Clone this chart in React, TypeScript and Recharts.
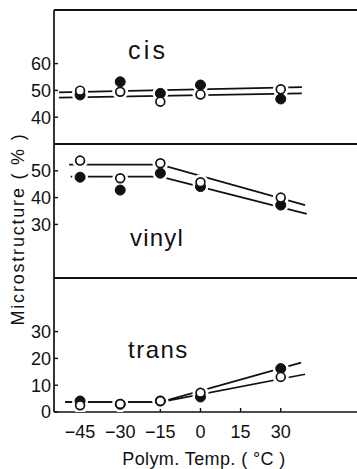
import React from "react";
import { LineChart, Line, XAxis, YAxis, ReferenceLine } from "recharts";

// ---- data ----
const temps = [-45, -30, -15, 0, 30];
const xTicks = [-45, -30, -15, 0, 15, 30];

const cisOpen = [49.9, 49.5, 45.8, 48.5, 50.4];
const cisFilled = [48.3, 53.2, 48.9, 52.0, 46.8];
const vinylOpen = [53.8, 47.2, 52.8, 45.7, 40.0];
const vinylFilled = [47.6, 42.8, 49.1, 44.1, 37.2];
const transOpen = [2.5, 3.0, 4.1, 7.2, 13.1];
const transFilled = [4.1, 2.9, 4.1, 5.6, 16.2];

// fitted lines (x, value)
const cisFitUpperX = [-52.9, 37.9];
const cisFitUpper = [49.3, 51.2];
const cisFitLowerX = [-52.9, 37.9];
const cisFitLower = [47.3, 48.9];
const vinylFitUpperX = [-49.1, -15, 39.1];
const vinylFitUpper = [52.3, 52.3, 37.2];
const vinylFitLowerX = [-48.5, -15, 39.7];
const vinylFitLower = [47.8, 47.8, 33.9];
const transFitUpperX = [-50.6, -15, 37.6];
const transFitUpper = [3.7, 3.7, 18.4];
const transFitLowerX = [-50.6, -15, 39.1];
const transFitLower = [3.7, 3.7, 14.1];

const cisTicks = [40, 50, 60];
const vinylTicks = [30, 40, 50];
const transTicks = [0, 10, 20, 30];

const rows = (xs: number[], ys: number[]) => xs.map((x, i) => ({ x, y: ys[i] }));

const FONT = "'Liberation Sans', Arial, sans-serif";
const X_DOMAIN: [number, number] = [-54.75, 58.5];

const haloDot = (props: any) => {
  const { cx, cy, index } = props;
  if (cx == null || cy == null) return <g key={`h${index}`} />;
  return <circle key={`h${index}`} cx={cx} cy={cy} r={8} fill="#fff" stroke="none" />;
};
const filledDot = (props: any) => {
  const { cx, cy, index } = props;
  if (cx == null || cy == null) return <g key={`f${index}`} />;
  return <circle key={`f${index}`} cx={cx} cy={cy} r={5} fill="#111" stroke="#111" strokeWidth={1} />;
};
const openDot = (props: any) => {
  const { cx, cy, index } = props;
  if (cx == null || cy == null) return <g key={`o${index}`} />;
  return <circle key={`o${index}`} cx={cx} cy={cy} r={4.4} fill="#fff" stroke="#111" strokeWidth={1.7} />;
};

const fmt = (v: number) => (v < 0 ? `\u2212${Math.abs(v)}` : `${v}`);

type PanelProps = {
  top: number;
  domain: [number, number];
  ticks: number[];
  open: number[];
  filled: number[];
  fitU: { x: number; y: number }[];
  fitL: { x: number; y: number }[];
  showX: boolean;
};

const Panel = ({ top, domain, ticks, open, filled, fitU, fitL, showX }: PanelProps) => {
  const height = 4 + 134 + (showX ? 57 : 0);
  const openRows = rows(temps, open);
  const filledRows = rows(temps, filled);
  return (
    <div style={{ position: "absolute", left: 0, top, width: 357, height }}>
      <LineChart width={357} height={height} margin={{ top: 4, right: 0, bottom: 0, left: 0 }}>
        <XAxis
          type="number"
          dataKey="x"
          domain={X_DOMAIN}
          ticks={xTicks}
          allowDataOverflow
          hide={!showX}
          height={57}
          axisLine={{ stroke: "#111", strokeWidth: 1.7 }}
          tickLine={{ stroke: "#111", strokeWidth: 1.4 }}
          tickSize={-4}
          tickMargin={17}
          tickFormatter={fmt}
          tick={{ fill: "#111", fontSize: 18, fontFamily: FONT }}
        />
        <YAxis
          type="number"
          dataKey="y"
          domain={domain}
          ticks={ticks}
          allowDataOverflow
          width={54}
          axisLine={{ stroke: "#111", strokeWidth: 1.7 }}
          tickLine={{ stroke: "#111", strokeWidth: 1.4 }}
          tickSize={-4}
          tickMargin={7}
          tick={{ fill: "#111", fontSize: 18, fontFamily: FONT }}
        />
        <ReferenceLine y={domain[1]} stroke="#111" strokeWidth={1.9} />
        <Line data={fitU} dataKey="y" type="linear" stroke="#111" strokeWidth={1.7} dot={false} activeDot={false} isAnimationActive={false} />
        <Line data={fitL} dataKey="y" type="linear" stroke="#111" strokeWidth={1.7} dot={false} activeDot={false} isAnimationActive={false} />
        <Line data={filledRows} dataKey="y" stroke="none" dot={haloDot} activeDot={false} isAnimationActive={false} />
        <Line data={openRows} dataKey="y" stroke="none" dot={haloDot} activeDot={false} isAnimationActive={false} />
        <Line data={filledRows} dataKey="y" stroke="none" dot={filledDot} activeDot={false} isAnimationActive={false} />
        <Line data={openRows} dataKey="y" stroke="none" dot={openDot} activeDot={false} isAnimationActive={false} />
      </LineChart>
    </div>
  );
};

export default function App() {
  return (
    <div style={{ position: "absolute", left: 0, top: 0, width: 357, height: 469, background: "#fff", overflow: "hidden" }}>
      <Panel top={6} domain={[30, 80]} ticks={cisTicks} open={cisOpen} filled={cisFilled}
        fitU={rows(cisFitUpperX, cisFitUpper)} fitL={rows(cisFitLowerX, cisFitLower)} showX={false} />
      <Panel top={140} domain={[10, 60]} ticks={vinylTicks} open={vinylOpen} filled={vinylFilled}
        fitU={rows(vinylFitUpperX, vinylFitUpper)} fitL={rows(vinylFitLowerX, vinylFitLower)} showX={false} />
      <Panel top={274} domain={[0, 50]} ticks={transTicks} open={transOpen} filled={transFilled}
        fitU={rows(transFitUpperX, transFitUpper)} fitL={rows(transFitLowerX, transFitLower)} showX={true} />
      <svg width={357} height={469} style={{ position: "absolute", left: 0, top: 0, pointerEvents: "none" }}>
        <g fontFamily={FONT} fill="#111">
          <text x={128} y={59} fontSize={25} letterSpacing={3.2}>cis</text>
          <text x={130} y={246} fontSize={24} letterSpacing={1.2}>vinyl</text>
          <text x={128} y={358} fontSize={24} letterSpacing={1.5}>trans</text>
          <text x={204} y={465} fontSize={18} letterSpacing={0.4} textAnchor="middle">Polym. Temp. ( °C )</text>
          <text x={0} y={0} fontSize={18} letterSpacing={1.8} textAnchor="middle"
            transform="translate(24 229) rotate(-90)">Microstructure ( % )</text>
        </g>
      </svg>
    </div>
  );
}
